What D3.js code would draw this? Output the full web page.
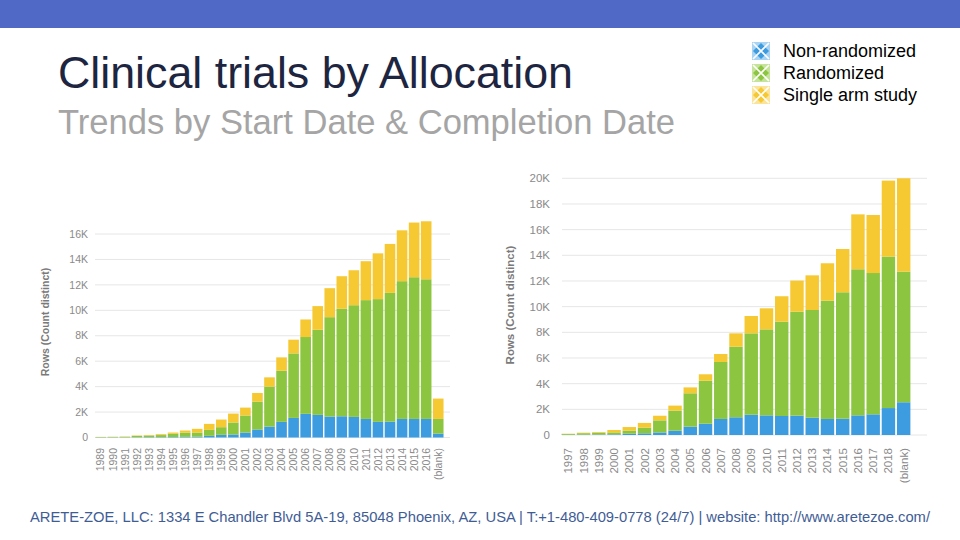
<!DOCTYPE html>
<html>
<head>
<meta charset="utf-8">
<script src="https://cdn.jsdelivr.net/npm/d3@7"></script>
<style>
    body { margin: 0; background: #fff; }
    svg { display: block; font-family: 'Liberation Sans', Arial, sans-serif; }
    .tick-label { fill: #8a8a8a; }
    .axis-title { fill: #7a7a7a; font-weight: bold; }
</style>
</head>
<body>
<svg id="slide" width="960" height="540"></svg>
<script>
// ------- Data (counts of trials) -------

const seriesNames = ['Non-randomized', 'Randomized', 'Single arm study'];
const seriesColours = ['#3d9be0', '#8cc540', '#f6c832'];
const legendLight = ['#a9d3f2', '#c6e39c', '#fbe49a'];

const startYears = ['1989', '1990', '1991', '1992', '1993', '1994', '1995', '1996', '1997', '1998',
    '1999', '2000', '2001', '2002', '2003', '2004', '2005', '2006', '2007', '2008', '2009', '2010',
    '2011', '2012', '2013', '2014', '2015', '2016', '(blank)'];
const startNonRandomized = [10, 10, 10, 20, 30, 30, 40, 50, 60, 130, 210, 240, 390, 630, 860, 1230,
    1540, 1860, 1780, 1650, 1670, 1620, 1460, 1230, 1250, 1460, 1460, 1460, 310];
const startRandomized = [30, 40, 50, 100, 120, 160, 250, 330, 330, 470, 600, 940, 1340, 2190, 3140,
    4020, 5070, 6040, 6690, 7810, 8450, 8780, 9340, 9650, 10120, 10830, 11140, 10980, 1150];
const startSingleArm = [10, 10, 20, 40, 50, 70, 100, 170, 290, 470, 600, 700, 620, 680, 730, 1050,
    1080, 1380, 1860, 2280, 2560, 2750, 3060, 3600, 3850, 4000, 4300, 4560, 1600];
const startTicks = [0, 2000, 4000, 6000, 8000, 10000, 12000, 14000, 16000];

const completionYears = ['1997', '1998', '1999', '2000', '2001', '2002', '2003', '2004', '2005',
    '2006', '2007', '2008', '2009', '2010', '2011', '2012', '2013', '2014', '2015', '2016', '2017',
    '2018', '(blank)'];
const completionNonRandomized = [20, 30, 40, 50, 100, 130, 200, 340, 650, 880, 1250, 1380, 1580,
    1530, 1480, 1510, 1350, 1250, 1270, 1530, 1610, 2100, 2550];
const completionRandomized = [60, 110, 140, 150, 240, 440, 940, 1560, 2600, 3350, 4440, 5500, 6340,
    6700, 7350, 8100, 8390, 9220, 9850, 11380, 11010, 11800, 10180];
const completionSingleArm = [20, 40, 50, 190, 280, 370, 360, 390, 460, 500, 620, 1040, 1350, 1640,
    1980, 2420, 2700, 2910, 3370, 4280, 4520, 5920, 7270];
const completionTicks = [0, 2000, 4000, 6000, 8000, 10000, 12000, 14000, 16000, 18000, 20000];

// ------- Slide frame -------

const svg = d3.select('#slide');

svg.append('rect')
    .attr('width', 960)
    .attr('height', 28)
    .attr('fill', '#5069c6');

svg.append('text')
    .attr('x', 58)
    .attr('y', 88)
    .attr('font-size', 45)
    .attr('fill', '#1d2540')
    .attr('textLength', 515)
    .attr('lengthAdjust', 'spacingAndGlyphs')
    .text('Clinical trials by Allocation');

svg.append('text')
    .attr('x', 58)
    .attr('y', 134)
    .attr('font-size', 35)
    .attr('fill', '#a5a5a5')
    .attr('textLength', 617)
    .attr('lengthAdjust', 'spacingAndGlyphs')
    .text('Trends by Start Date & Completion Date');

svg.append('text')
    .attr('x', 30)
    .attr('y', 522)
    .attr('font-size', 14.5)
    .attr('fill', '#3f5d95')
    .attr('textLength', 900)
    .attr('lengthAdjust', 'spacingAndGlyphs')
    .text('ARETE-ZOE, LLC: 1334 E Chandler Blvd 5A-19, 85048 Phoenix, AZ, USA | T:+1-480-409-0778 (24/7) | website: http://www.aretezoe.com/');

// ------- Legend -------

const legend = svg.append('g')
    .selectAll('g')
    .data(seriesNames)
    .join('g')
        .attr('transform', (d, i) => `translate(752, ${42 + i * 22})`);

legend.append('rect')
    .attr('width', 18)
    .attr('height', 18)
    .attr('fill', (d, i) => legendLight[i]);

legend.append('path')
    .attr('d', 'M9,1 L17,9 L9,17 L1,9 Z')
    .attr('fill', (d, i) => seriesColours[i]);

legend.append('path')
    .attr('d', 'M1,1 L17,17 M17,1 L1,17')
    .attr('stroke', '#fff')
    .attr('stroke-width', 1.6);

legend.append('text')
    .attr('x', 31)
    .attr('y', 15)
    .attr('font-size', 18)
    .attr('fill', '#000')
    .text(d => d);

// ------- Stacked bar chart -------

const stackedBars = (parent, props) => {
    const {
        years, nonRandomized, randomized, singleArm, ticks,
        xRange, yRange, yDomainMax, gridRange, fontSize, tickX, labelY, titleX, titleY
    } = props;

    const rows = years.map((year, i) => ({
        year,
        'Non-randomized': nonRandomized[i],
        'Randomized': randomized[i],
        'Single arm study': singleArm[i]
    }));

    const x = d3.scaleBand()
        .domain(years)
        .range(xRange)
        .paddingInner(0.12)
        .paddingOuter(0.04);

    const y = d3.scaleLinear()
        .domain([0, yDomainMax])
        .range(yRange);

    const g = parent.append('g');

    // gridlines and tick labels
    g.selectAll('line.grid')
        .data(ticks)
        .join('line')
            .attr('class', 'grid')
            .attr('x1', gridRange[0])
            .attr('x2', gridRange[1])
            .attr('y1', d => y(d))
            .attr('y2', d => y(d))
            .attr('stroke', '#e6e6e6')
            .attr('stroke-width', 1);

    g.selectAll('text.ytick')
        .data(ticks)
        .join('text')
            .attr('class', 'ytick tick-label')
            .attr('x', tickX)
            .attr('y', d => y(d))
            .attr('dy', '0.35em')
            .attr('text-anchor', 'end')
            .attr('font-size', fontSize)
            .text(d => d === 0 ? '0' : (d / 1000) + 'K');

    g.append('text')
        .attr('class', 'axis-title')
        .attr('transform', `translate(${titleX}, ${titleY}) rotate(-90)`)
        .attr('text-anchor', 'middle')
        .attr('dy', '0.35em')
        .attr('font-size', fontSize)
        .text('Rows (Count distinct)');

    // bars
    const stack = d3.stack().keys(seriesNames)(rows);

    g.selectAll('g.series')
        .data(stack)
        .join('g')
            .attr('class', 'series')
            .attr('fill', (d, i) => seriesColours[i])
        .selectAll('rect')
        .data(d => d)
        .join('rect')
            .attr('x', d => x(d.data.year))
            .attr('width', x.bandwidth())
            .attr('y', d => y(d[1]))
            .attr('height', d => y(d[0]) - y(d[1]));

    // year labels
    g.selectAll('text.xtick')
        .data(years)
        .join('text')
            .attr('class', 'xtick tick-label')
            .attr('transform', d => `translate(${x(d) + x.bandwidth() / 2}, ${labelY}) rotate(-90)`)
            .attr('text-anchor', 'end')
            .attr('dy', '0.35em')
            .attr('font-size', fontSize)
            .text(d => d);
};

stackedBars(svg, {
    years: startYears,
    nonRandomized: startNonRandomized,
    randomized: startRandomized,
    singleArm: startSingleArm,
    ticks: startTicks,
    xRange: [95, 444],
    yRange: [437.5, 234],
    yDomainMax: 16000,
    gridRange: [95, 450],
    fontSize: 10.5,
    tickX: 88,
    labelY: 448,
    titleX: 45,
    titleY: 322
});

stackedBars(svg, {
    years: completionYears,
    nonRandomized: completionNonRandomized,
    randomized: completionRandomized,
    singleArm: completionSingleArm,
    ticks: completionTicks,
    xRange: [561, 911],
    yRange: [435, 178.3],
    yDomainMax: 20000,
    gridRange: [562, 927],
    fontSize: 11.5,
    tickX: 550,
    labelY: 448,
    titleX: 510,
    titleY: 305
});
</script>
</body>
</html>
